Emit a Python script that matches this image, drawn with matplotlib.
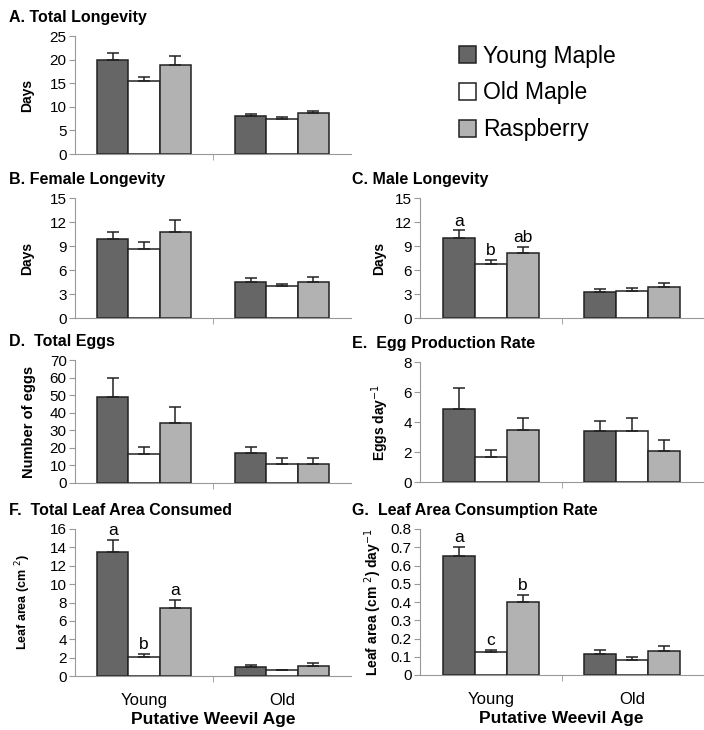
import numpy as np
import matplotlib
matplotlib.use('Agg')
import matplotlib.pyplot as plt
from matplotlib.patches import Patch

plt.rcParams['font.family'] = ['Liberation Sans', 'DejaVu Sans']

# Data: means and upper SE for Young / Old weevils
ages = ['Young', 'Old']
hosts = ['Young Maple', 'Old Maple', 'Raspberry']
colors = ['#666666', '#ffffff', '#b2b2b2']

total_long = [[19.9, 15.4, 18.8], [8.0, 7.4, 8.7]]
total_long_se = [[1.6, 1.0, 1.9], [0.5, 0.5, 0.5]]
female_long = [[9.9, 8.6, 10.8], [4.5, 4.0, 4.5]]
female_long_se = [[0.9, 0.9, 1.4], [0.5, 0.2, 0.6]]
male_long = [[10.0, 6.7, 8.1], [3.3, 3.4, 3.9]]
male_long_se = [[1.0, 0.6, 0.8], [0.3, 0.3, 0.5]]
total_eggs = [[49, 16.5, 34], [17, 11, 11]]
total_eggs_se = [[11, 4, 9], [3.6, 3.4, 3.4]]
egg_rate = [[4.85, 1.7, 3.45], [3.4, 3.4, 2.1]]
egg_rate_se = [[1.45, 0.45, 0.85], [0.7, 0.9, 0.7]]
leaf_total = [[13.5, 2.1, 7.4], [1.0, 0.6, 1.1]]
leaf_total_se = [[1.3, 0.3, 0.85], [0.15, 0.1, 0.3]]
leaf_rate = [[0.654, 0.124, 0.402], [0.116, 0.082, 0.132]]
leaf_rate_se = [[0.05, 0.013, 0.035], [0.021, 0.015, 0.028]]

letters_C = ['a', 'b', 'ab']
letters_F = ['a', 'b', 'a']
letters_G = ['a', 'c', 'b']

W, H = 704, 730
fig = plt.figure(figsize=(W / 100, H / 100), dpi=100)


def make_ax(left, right, top, bottom):
    ax = fig.add_axes([left / W, 1 - bottom / H, (right - left) / W, (bottom - top) / H])
    ax._px = (left, right)
    return ax


def panel(ax, means, ses, ymax, step, title, ylabel, ylab_x, ylab_size=10,
          letters=None, xlabels=False, fmt=None):
    bw = 0.225
    x = np.arange(len(ages))
    for i in range(3):
        vals = [means[g][i] for g in range(2)]
        errs = [ses[g][i] for g in range(2)]
        ax.bar(x + (i - 1) * bw, vals, bw, color=colors[i], edgecolor='#222222', linewidth=1.1,
               yerr=[[0, 0], errs], error_kw=dict(ecolor='#222222', elinewidth=1.1, capsize=4, capthick=1.1),
               zorder=2)
        if letters:
            ax.text(x[0] + (i - 1) * bw, vals[0] + errs[0] + ymax * 0.012, letters[i],
                    ha='center', va='bottom', fontsize=12.5)
    ax.set_xlim(-0.5, 1.5)
    ax.set_ylim(0, ymax)
    ticks = np.arange(0, ymax + step / 2, step)
    ax.set_yticks(ticks)
    if fmt:
        ax.set_yticklabels([fmt(t) for t in ticks])
    for s in ['top', 'right']:
        ax.spines[s].set_visible(False)
    for s in ['left', 'bottom']:
        ax.spines[s].set_color('#999999')
    ax.tick_params(axis='y', labelsize=11, length=4, color='#999999', pad=2)
    ax.set_xticks([0, 1])
    ax.set_xticks([0.5], minor=True)
    ax.tick_params(axis='x', which='major', length=0, labelsize=12, pad=12)
    ax.tick_params(axis='x', which='minor', length=4, color='#999999')
    if xlabels:
        ax.set_xticklabels(ages)
        ax.set_xlabel('Putative Weevil Age', fontsize=12.5, fontweight='bold', labelpad=3)
    else:
        ax.set_xticklabels([])
    ax.set_ylabel(ylabel, fontsize=ylab_size, fontweight='bold')
    left, right = ax._px
    # label coords anchor the right edge of the rotated text
    ax.yaxis.set_label_coords((ylab_x + 6 - left) / (right - left), 0.5)
    ax.set_title(title, fontsize=11.5, fontweight='bold', loc='left', x=-0.24, pad=10)


axA = make_ax(75, 351, 36, 154)
panel(axA, total_long, total_long_se, 25, 5, 'A. Total Longevity', 'Days', 28)
axB = make_ax(75, 351, 198, 318)
panel(axB, female_long, female_long_se, 15, 3, 'B. Female Longevity', 'Days', 28)
axC = make_ax(420, 703, 198, 318)
panel(axC, male_long, male_long_se, 15, 3, 'C. Male Longevity', 'Days', 380, letters=letters_C)
axD = make_ax(75, 351, 360, 483)
panel(axD, total_eggs, total_eggs_se, 70, 10, 'D.  Total Eggs', 'Number of eggs', 30, ylab_size=10.5)
axE = make_ax(420, 703, 362, 482)
panel(axE, egg_rate, egg_rate_se, 8, 2, 'E.  Egg Production Rate', 'Eggs day$^{-1}$', 385)
axF = make_ax(75, 351, 529, 676)
panel(axF, leaf_total, leaf_total_se, 16, 2, 'F.  Total Leaf Area Consumed', 'Leaf area (cm $^{2}$)', 27,
      ylab_size=9, letters=letters_F, xlabels=True)
axG = make_ax(420, 703, 529, 675)
panel(axG, leaf_rate, leaf_rate_se, 0.8, 0.1, 'G.  Leaf Area Consumption Rate', 'Leaf area (cm $^{2}$) day$^{-1}$',
      378, letters=letters_G, xlabels=True, fmt=lambda t: '0' if t == 0 else f'{t:.1f}')

handles = [Patch(facecolor=c, edgecolor='#222222', linewidth=1.1) for c in colors]
fig.legend(handles, hosts, loc='upper left', bbox_to_anchor=(438 / W, 1 - 24 / H), frameon=False,
           fontsize=16.5, handlelength=0.75, handleheight=0.75, handletextpad=0.3, labelspacing=0.6)

fig.savefig('out.png', dpi=100)
